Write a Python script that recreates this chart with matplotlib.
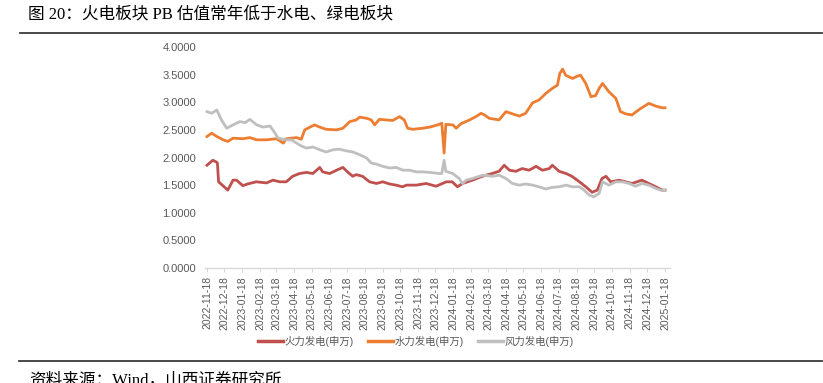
import matplotlib
matplotlib.use("Agg")
import matplotlib.pyplot as plt
import pandas as pd
from matplotlib.lines import Line2D

# ---------------- data ----------------
title = "图 20：火电板块 PB 估值常年低于水电、绿电板块"
source = "资料来源：Wind，山西证券研究所"
series_names = ["火力发电(申万)", "水力发电(申万)", "风力发电(申万)"]

thermal_dates = ["2022-11-18", "2022-11-28", "2022-12-04", "2022-12-06", "2022-12-08", "2022-12-24",
                 "2023-01-02", "2023-01-08", "2023-01-19", "2023-01-27", "2023-02-11", "2023-03-01",
                 "2023-03-12", "2023-03-24", "2023-04-04", "2023-04-15", "2023-04-27", "2023-05-09",
                 "2023-05-20", "2023-06-01", "2023-06-06", "2023-06-18", "2023-06-30", "2023-07-11",
                 "2023-07-19", "2023-07-28", "2023-08-03", "2023-08-14", "2023-08-26", "2023-09-07",
                 "2023-09-18", "2023-09-30", "2023-10-11", "2023-10-22", "2023-10-29", "2023-11-15",
                 "2023-12-02", "2023-12-19", "2024-01-06", "2024-01-16", "2024-01-25", "2024-02-03",
                 "2024-02-20", "2024-03-08", "2024-03-25", "2024-04-06", "2024-04-15", "2024-04-24",
                 "2024-05-05", "2024-05-16", "2024-05-28", "2024-06-09", "2024-06-20", "2024-07-02",
                 "2024-07-07", "2024-07-19", "2024-07-31", "2024-08-10", "2024-08-23", "2024-09-03",
                 "2024-09-14", "2024-09-23", "2024-10-01", "2024-10-08", "2024-10-16", "2024-10-31",
                 "2024-11-11", "2024-11-22", "2024-12-09", "2024-12-21", "2025-01-02", "2025-01-13",
                 "2025-01-18"]
thermal_pb = [1.86, 1.95, 1.92, 1.90, 1.56, 1.41,
              1.59, 1.59, 1.49, 1.52, 1.56, 1.54,
              1.59, 1.56, 1.56, 1.66, 1.71, 1.73,
              1.71, 1.82, 1.74, 1.71, 1.77, 1.82,
              1.74, 1.66, 1.69, 1.66, 1.56, 1.53,
              1.56, 1.52, 1.50, 1.47, 1.50, 1.50,
              1.53, 1.48, 1.56, 1.56, 1.47, 1.53,
              1.59, 1.66, 1.71, 1.75, 1.86, 1.77,
              1.75, 1.80, 1.77, 1.84, 1.77, 1.80,
              1.86, 1.75, 1.71, 1.66, 1.56, 1.47,
              1.37, 1.41, 1.62, 1.66, 1.56, 1.59,
              1.56, 1.53, 1.59, 1.53, 1.47, 1.41,
              1.41]

hydro_dates = ["2022-11-18", "2022-11-26", "2022-12-05", "2022-12-16", "2022-12-24", "2023-01-02",
               "2023-01-19", "2023-01-31", "2023-02-12", "2023-03-01", "2023-03-18", "2023-03-30",
               "2023-04-04", "2023-04-22", "2023-04-30", "2023-05-06", "2023-05-15", "2023-05-23",
               "2023-06-01", "2023-06-12", "2023-06-30", "2023-07-11", "2023-07-23", "2023-08-03",
               "2023-08-09", "2023-08-21", "2023-08-29", "2023-09-04", "2023-09-12", "2023-09-24",
               "2023-10-05", "2023-10-17", "2023-10-25", "2023-10-31", "2023-11-09", "2023-11-26",
               "2023-12-08", "2023-12-22", "2023-12-29", "2024-01-02", "2024-01-05", "2024-01-17",
               "2024-01-23", "2024-01-31", "2024-02-15", "2024-02-26", "2024-03-06", "2024-03-12",
               "2024-03-20", "2024-04-06", "2024-04-18", "2024-04-29", "2024-05-11", "2024-05-22",
               "2024-06-03", "2024-06-14", "2024-06-26", "2024-07-07", "2024-07-16", "2024-07-20",
               "2024-07-25", "2024-07-30", "2024-08-11", "2024-08-19", "2024-08-25", "2024-09-03",
               "2024-09-12", "2024-09-20", "2024-09-26", "2024-10-02", "2024-10-13", "2024-10-25",
               "2024-11-02", "2024-11-11", "2024-11-22", "2024-12-03", "2024-12-21", "2025-01-02",
               "2025-01-13", "2025-01-18"]
hydro_pb = [2.38, 2.44, 2.38, 2.32, 2.29, 2.35,
            2.34, 2.36, 2.32, 2.32, 2.34, 2.26,
            2.34, 2.36, 2.33, 2.50, 2.55, 2.59,
            2.55, 2.51, 2.50, 2.53, 2.65, 2.68,
            2.73, 2.71, 2.68, 2.59, 2.69, 2.68,
            2.67, 2.74, 2.68, 2.53, 2.51, 2.53,
            2.55, 2.59, 2.62, 2.08, 2.60, 2.59,
            2.53, 2.61, 2.68, 2.74, 2.80, 2.77,
            2.71, 2.68, 2.83, 2.79, 2.75, 2.80,
            2.99, 3.04, 3.16, 3.25, 3.31, 3.52,
            3.60, 3.49, 3.43, 3.47, 3.49, 3.34,
            3.10, 3.12, 3.25, 3.34, 3.19, 3.07,
            2.83, 2.79, 2.77, 2.86, 2.98, 2.93,
            2.90, 2.90]

wind_dates = ["2022-11-18", "2022-11-26", "2022-12-05", "2022-12-13", "2022-12-22", "2023-01-02",
              "2023-01-14", "2023-01-23", "2023-01-31", "2023-02-12", "2023-02-23", "2023-03-07",
              "2023-03-15", "2023-03-21", "2023-04-04", "2023-04-13", "2023-04-22", "2023-04-30",
              "2023-05-09", "2023-05-20", "2023-06-01", "2023-06-12", "2023-06-24", "2023-07-05",
              "2023-07-17", "2023-07-28", "2023-08-09", "2023-08-21", "2023-08-29", "2023-09-07",
              "2023-09-18", "2023-09-30", "2023-10-11", "2023-10-23", "2023-11-03", "2023-11-15",
              "2023-11-26", "2023-12-08", "2023-12-25", "2023-12-29", "2024-01-02", "2024-01-05",
              "2024-01-17", "2024-01-28", "2024-02-03", "2024-02-09", "2024-02-20", "2024-03-09",
              "2024-03-26", "2024-04-06", "2024-04-18", "2024-04-29", "2024-05-11", "2024-05-22",
              "2024-06-03", "2024-06-14", "2024-06-26", "2024-07-07", "2024-07-19", "2024-07-31",
              "2024-08-11", "2024-08-23", "2024-08-31", "2024-09-09", "2024-09-17", "2024-09-26",
              "2024-10-02", "2024-10-13", "2024-10-25", "2024-11-05", "2024-11-17", "2024-11-28",
              "2024-12-09", "2024-12-21", "2025-01-02", "2025-01-13", "2025-01-18"]
wind_pb = [2.83, 2.80, 2.86, 2.68, 2.53, 2.59,
           2.65, 2.63, 2.69, 2.59, 2.55, 2.57,
           2.45, 2.35, 2.32, 2.32, 2.26, 2.21,
           2.17, 2.19, 2.14, 2.10, 2.14, 2.15,
           2.12, 2.10, 2.05, 1.99, 1.90, 1.88,
           1.84, 1.81, 1.82, 1.77, 1.77, 1.74,
           1.74, 1.73, 1.71, 1.71, 1.95, 1.75,
           1.71, 1.62, 1.53, 1.59, 1.62, 1.68,
           1.66, 1.68, 1.62, 1.53, 1.50, 1.52,
           1.50, 1.47, 1.43, 1.46, 1.47, 1.50,
           1.47, 1.47, 1.41, 1.32, 1.29, 1.35,
           1.56, 1.50, 1.56, 1.56, 1.53, 1.48,
           1.53, 1.50, 1.44, 1.40, 1.41]

y_ticks = [0.0, 0.5, 1.0, 1.5, 2.0, 2.5, 3.0, 3.5, 4.0]
x_tick_dates = pd.date_range("2022-11-01", "2025-01-01", freq="MS") + pd.Timedelta(days=17)

colors = ["#C0504D", "#ED7D31", "#BFBFBF"]

# ---------------- figure ----------------
W, H = 823, 383
fig = plt.figure(figsize=(W / 100, H / 100), dpi=100)

cjk_serif = ["Liberation Serif", "Noto Sans CJK SC"]
cjk_sans = ["Liberation Sans", "Noto Sans CJK SC"]

# title and rules
fig.text(28 / W, 1 - 14 / H, title, family=cjk_serif, fontsize=12, color="#000000",
         ha="left", va="center")
fig.add_artist(Line2D([20 / W, 822 / W], [1 - 33 / H, 1 - 33 / H], color="#3a3a3a", lw=1.3))
fig.add_artist(Line2D([19 / W, 822 / W], [1 - 361 / H, 1 - 361 / H], color="#3a3a3a", lw=1.3))
fig.text(29 / W, 1 - 372 / H, source, family=cjk_serif, fontsize=12, color="#000000",
         ha="left", va="top")

# axes
x0_date = pd.Timestamp("2022-11-15")
x1_date = pd.Timestamp("2025-01-27")
px_per_day = (665 - 207) / 792.0
left_px = 207 - 3 * px_per_day
right_px = 665 + 9 * px_per_day
ax = fig.add_axes([left_px / W, 1 - 268 / H, (right_px - left_px) / W, (268 - 47) / H])

ax.plot(pd.to_datetime(thermal_dates), thermal_pb, color=colors[0], lw=2.0, label=series_names[0])
ax.plot(pd.to_datetime(hydro_dates), hydro_pb, color=colors[1], lw=2.0, label=series_names[1])
ax.plot(pd.to_datetime(wind_dates), wind_pb, color=colors[2], lw=2.0, label=series_names[2])

ax.set_xlim(x0_date, x1_date)
ax.set_ylim(0, 4)
ax.set_yticks(y_ticks)
ax.set_yticklabels([f"{v:.4f}" for v in y_ticks])
ax.set_xticks(x_tick_dates)
ax.set_xticklabels([d.strftime("%Y-%m-%d") for d in x_tick_dates], rotation=90)

for s in ["top", "right", "left"]:
    ax.spines[s].set_visible(False)
ax.spines["bottom"].set_color("#D9D9D9")
ax.spines["bottom"].set_linewidth(1.0)

ax.tick_params(axis="y", length=0, pad=6.5, labelsize=8, labelcolor="#595959")
ax.tick_params(axis="x", length=3, width=0.8, color="#D9D9D9", pad=3, labelsize=7.5,
               labelcolor="#595959")
for lab in ax.get_xticklabels() + ax.get_yticklabels():
    lab.set_family("Liberation Sans")

leg = fig.legend(loc="center", bbox_to_anchor=(416 / W, 1 - 341 / H), ncol=3, frameon=False,
                 prop={"family": cjk_sans, "size": 7.5}, handlelength=2.4, handletextpad=0.1,
                 columnspacing=1.4)
for t in leg.get_texts():
    t.set_color("#595959")
for h in leg.get_lines():
    h.set_linewidth(2.5)

fig.savefig("out.png", dpi=100)
